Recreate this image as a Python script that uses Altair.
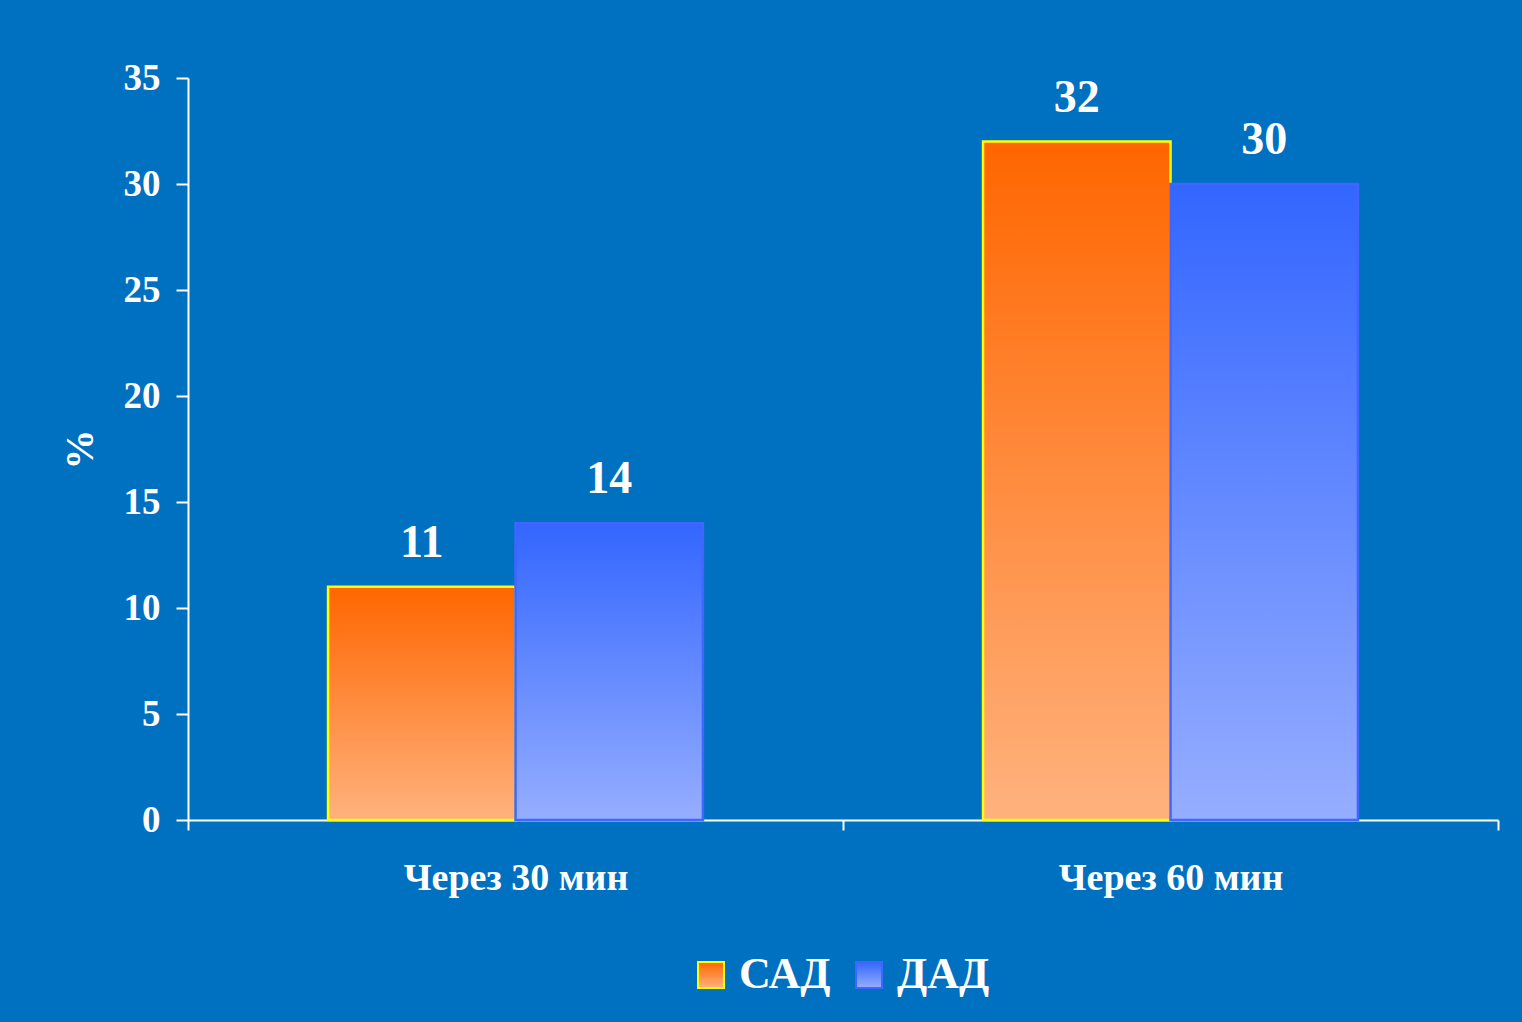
import altair as alt
import pandas as pd

# Share of patients (%) with a blood-pressure response, by time after dose
times = ["Через 30 мин", "Через 30 мин", "Через 60 мин", "Через 60 мин"]
series = ["САД", "ДАД", "САД", "ДАД"]
values = [11, 14, 32, 30]

series_order = ["САД", "ДАД"]
y_ticks = [0, 5, 10, 15, 20, 25, 30, 35]

df = pd.DataFrame({"time": times, "series": series, "value": values})

BG = "#0070C0"
FONT = "Liberation Serif"


def vertical_gradient(top, bottom):
    # Vega expression that builds a top-to-bottom linear gradient object
    return alt.ExprRef(
        expr="{gradient: 'linear', x1: 0, y1: 0, x2: 0, y2: 1, "
        f"stops: [{{offset: 0, color: '{top}'}}, {{offset: 1, color: '{bottom}'}}]}}"
    )


fill_range = [vertical_gradient("#FF6600", "#FFB27E"), vertical_gradient("#3366FF", "#96AEFF")]
stroke_range = ["#FFFF00", "#3F66FF"]

legend = alt.Legend(
    title=None, orient="none", legendX=501, legendY=875, direction="horizontal",
    symbolType="square", symbolSize=676, symbolStrokeWidth=2,
    labelFont=FONT, labelFontSize=44, labelFontWeight="bold", labelColor="white",
    labelOffset=6, columnPadding=16,
)

base = alt.Chart(df).encode(
    x=alt.X(
        "time:N",
        title=None,
        scale=alt.Scale(paddingInner=0, paddingOuter=0),
        axis=alt.Axis(
            labelAngle=0, labelFont=FONT, labelFontSize=38, labelFontWeight="bold",
            labelColor="white", labelPadding=29, labelLimit=600,
            tickBand="extent", tickSize=10, tickColor="white", tickWidth=2,
            domainColor="white", domainWidth=2,
        ),
    ),
    xOffset=alt.XOffset(
        "series:N", sort=series_order,
        scale=alt.Scale(paddingInner=0, paddingOuter=0.747),
    ),
    y=alt.Y(
        "value:Q",
        title="%",
        scale=alt.Scale(domain=[0, 35], nice=False),
        axis=alt.Axis(
            values=y_ticks, grid=False, labelFont=FONT, labelFontSize=37,
            labelFontWeight="bold", labelColor="white", labelPadding=16,
            tickSize=12, tickColor="white", tickWidth=2, domainColor="white",
            domainWidth=2, titleFont=FONT, titleFontSize=40, titleFontWeight="bold",
            titleColor="white", titleX=-108, titleY=371, titleAngle=270,
            titleAlign="center", titleBaseline="middle",
        ),
    ),
)

bars = base.mark_bar(strokeWidth=2.5).encode(
    color=alt.Color(
        "series:N", sort=series_order,
        scale=alt.Scale(domain=series_order, range=fill_range),
        legend=legend,
    ),
    stroke=alt.Stroke(
        "series:N", sort=series_order,
        scale=alt.Scale(domain=series_order, range=stroke_range),
        legend=legend,
    ),
)

labels = base.mark_text(
    font=FONT, fontSize=46, fontWeight="bold", color="white",
    baseline="alphabetic", dy=-30,
).encode(text=alt.Text("value:Q"))

chart = alt.layer(bars, labels).properties(
    width=1310, height=742,
    background=BG,
    padding={"left": 188, "top": 78, "right": 24, "bottom": 202},
    autosize=alt.AutoSizeParams(type="none"),
).configure_view(strokeWidth=0)

chart.save("out.html", embed_options={"renderer": "svg", "actions": False})
